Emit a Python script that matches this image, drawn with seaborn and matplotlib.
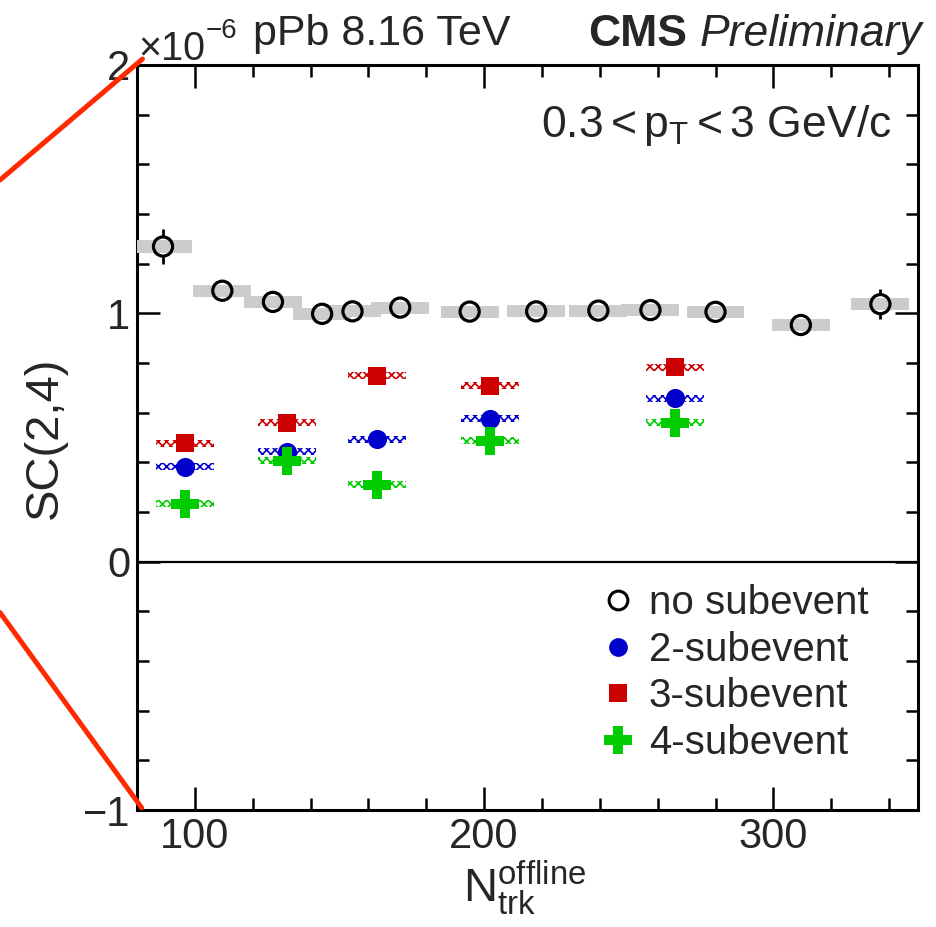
import matplotlib
matplotlib.use('Agg')
import matplotlib.pyplot as plt
from matplotlib.lines import Line2D
from matplotlib.ticker import MultipleLocator, FixedLocator, FixedFormatter
import seaborn as sns
import pandas as pd
import numpy as np

# --- data (units of 1e-6) ---
nsub_x = [89, 109.5, 127, 144, 154.5, 171, 195, 218, 239.5, 257.5, 280, 309.5, 337]
nsub_y = [1.269, 1.091, 1.046, 0.998, 1.008, 1.023, 1.007, 1.008, 1.011, 1.013, 1.006, 0.953, 1.037]
nsub_stat = [0.07, 0.0, 0.0, 0.0, 0.0, 0.0, 0.0, 0.0, 0.0, 0.0, 0.0, 0.0, 0.06]
nsub_sys = [0.027, 0.024, 0.024, 0.024, 0.024, 0.024, 0.024, 0.024, 0.024, 0.024, 0.024, 0.024, 0.024]

sub_x = [96.6, 132, 163, 202, 266]
two_sub = [0.383, 0.443, 0.493, 0.575, 0.658]
three_sub = [0.477, 0.560, 0.748, 0.709, 0.783]
four_sub = [0.233, 0.407, 0.309, 0.487, 0.560]
sub_sys = [0.014, 0.014, 0.014, 0.014, 0.014]

legend_labels = ['no subevent', '2-subevent', '3-subevent', '4-subevent']

sns.set_theme(style='ticks')
plt.rcParams['font.family'] = ['Liberation Sans', 'DejaVu Sans']
plt.rcParams['mathtext.fontset'] = 'custom'
plt.rcParams['mathtext.rm'] = 'Liberation Sans'
plt.rcParams['mathtext.it'] = 'Liberation Sans:italic'
plt.rcParams['mathtext.bf'] = 'Liberation Sans:bold'
plt.rcParams['mathtext.default'] = 'regular'
plt.rcParams['hatch.linewidth'] = 1.2
plt.rcParams['axes.unicode_minus'] = True

fig = plt.figure(figsize=(9.37, 9.27), dpi=100)
ax = fig.add_axes([0.1462, 0.1262, 0.8335, 0.8037])

red = '#cc0000'
blue = '#0000cc'
green = '#00cc00'

# systematic boxes, no subevent
ax.bar(nsub_x, 2 * np.array(nsub_sys), bottom=np.array(nsub_y) - np.array(nsub_sys),
       width=20, color='#cccccc', linewidth=0, zorder=3)

# hatched systematic bands for subevent methods
for vals, c in [(three_sub, red), (two_sub, blue), (four_sub, green)]:
    ax.bar(sub_x, 2 * np.array(sub_sys), bottom=np.array(vals) - np.array(sub_sys),
           width=20, color='white', edgecolor=c, hatch='xxxx', linewidth=0, zorder=2)

# stat errors
ax.errorbar(nsub_x, nsub_y, yerr=nsub_stat, fmt='none', ecolor='black', elinewidth=2, zorder=1)

df_n = pd.DataFrame({'x': nsub_x, 'y': nsub_y})
sns.scatterplot(data=df_n, x='x', y='y', ax=ax, marker='o', s=190, color='white',
                linewidth=0, zorder=2.5, legend=False)
sns.scatterplot(data=df_n, x='x', y='y', ax=ax, marker='o', s=190, facecolor='none',
                edgecolor='black', linewidth=2.3, zorder=4, legend=False)

df_s = pd.DataFrame({'x': sub_x * 3,
                     'y': two_sub + three_sub + four_sub,
                     'method': ['2'] * 5 + ['3'] * 5 + ['4'] * 5})
sns.scatterplot(data=df_s[df_s.method == '2'], x='x', y='y', ax=ax, marker='o', s=190,
                color=blue, linewidth=0, zorder=5, legend=False)
sns.scatterplot(data=df_s[df_s.method == '3'], x='x', y='y', ax=ax, marker='s', s=180,
                color=red, linewidth=0, zorder=5, legend=False)
sns.scatterplot(data=df_s[df_s.method == '4'], x='x', y='y', ax=ax, marker='P', s=420,
                color=green, linewidth=0, zorder=6, legend=False)

ax.axhline(0, color='black', lw=1.6, zorder=1)

ax.set_xlim(80, 350)
ax.set_ylim(-1, 2)
ax.xaxis.set_major_locator(FixedLocator([100, 200, 300]))
ax.xaxis.set_minor_locator(MultipleLocator(20))
ax.yaxis.set_major_locator(FixedLocator([-1, 0, 1, 2]))
ax.yaxis.set_major_formatter(FixedFormatter(['\u22121', '0', '1', '2']))
ax.yaxis.set_minor_locator(MultipleLocator(0.2))
ax.tick_params(which='both', direction='in', top=True, right=True, width=1.8, color='black')
ax.tick_params(which='major', length=16.5, labelsize=30, pad=5)
ax.tick_params(which='minor', length=8.6)
ax.tick_params(axis='y', which='major', pad=5)
for s in ax.spines.values():
    s.set_linewidth(2.2)
    s.set_color('black')
ax.set_xlabel(r'$\mathrm{N}_{\mathrm{trk}}^{\mathrm{offline}}$', fontsize=34, va='top')
ax.xaxis.set_label_coords(0.497, -0.066)
ax.set_ylabel('SC(2,4)', fontsize=34)
ax.yaxis.set_label_coords(-0.09, 0.5)

# texts
fig.text(138 / 937, (927 - 60) / 927, '\u00d710', fontsize=28.5, va='baseline', ha='left')
fig.text(206 / 937, (927 - 38) / 927, '\u22126', fontsize=20, va='baseline', ha='left')
fig.text(253 / 937, (927 - 45) / 927, 'pPb 8.16 TeV', fontsize=31, va='baseline', ha='left')
fig.text(922 / 937, (927 - 46) / 927, 'Preliminary', fontsize=32, style='italic',
         va='baseline', ha='right')
fig.text(687 / 937, (927 - 46) / 927, 'CMS', fontsize=32, weight='bold',
         va='baseline', ha='right')
ax.text(0.9667, 0.9034, r'$0.3 < p_{T} < 3\ GeV/c$', fontsize=32, transform=ax.transAxes,
        ha='right', va='baseline')

# red zoom connector lines
ax.plot([-0.1754, 0.007], [0.8456, 1.008], color='#ff2a00', lw=3.6,
        transform=ax.transAxes, clip_on=False, zorder=10)
ax.plot([-0.1754, 0.006], [0.265, 0.003], color='#ff2a00', lw=3.6,
        transform=ax.transAxes, clip_on=False, zorder=10)

handles = [
    Line2D([], [], ls='none', marker='o', ms=13.5, mfc='none', mec='black', mew=2.2),
    Line2D([], [], ls='none', marker='o', ms=13.5, mfc=blue, mec=blue, mew=0),
    Line2D([], [], ls='none', marker='s', ms=13, mfc=red, mec=red, mew=0),
    Line2D([], [], ls='none', marker='P', ms=20, mfc=green, mec=green, mew=0),
]
ax.legend(handles, legend_labels, loc='upper left', bbox_to_anchor=(0.590, 0.303),
          frameon=False, fontsize=29, handlelength=1.0, handletextpad=0.27,
          labelspacing=0.21, borderpad=0, borderaxespad=0)

fig.savefig('out.png', dpi=100)
